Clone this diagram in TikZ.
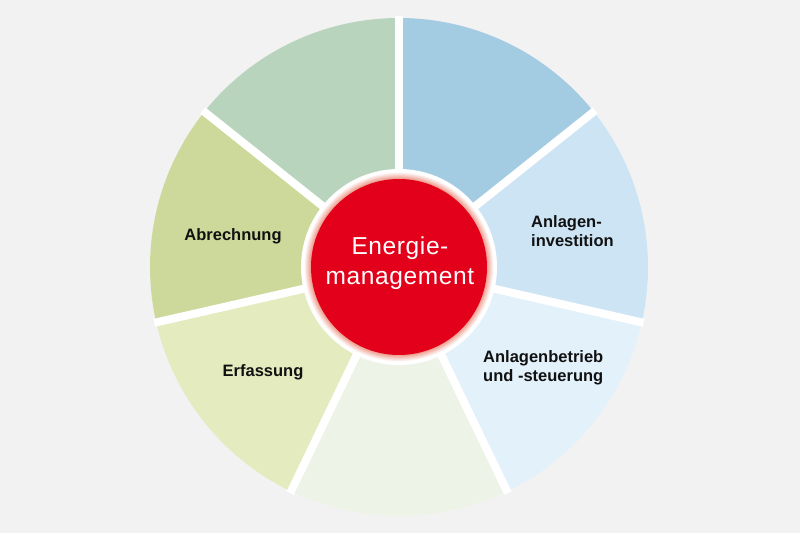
\documentclass[tikz,border=0pt]{standalone}
\usepackage{fontspec}
\setmainfont{Liberation Sans}
\newfontfamily\centerfont[LetterSpace=2.5]{Liberation Sans}
\definecolor{bg}{HTML}{F2F2F2}
\definecolor{sA}{HTML}{A3CBE2}
\definecolor{sB}{HTML}{CDE4F5}
\definecolor{sC}{HTML}{E3F1FB}
\definecolor{sD}{HTML}{EDF3E7}
\definecolor{sE}{HTML}{E3EBBF}
\definecolor{sF}{HTML}{CDD99B}
\definecolor{sG}{HTML}{B8D4BD}
\definecolor{coreRed}{HTML}{E2001A}
\definecolor{glow}{HTML}{EE9A8A}
\definecolor{txt}{HTML}{111111}
\begin{document}
\begin{tikzpicture}[x=1pt,y=1pt,
  sector/.style={fill=#1},
  gapline/.style={draw=white,line width=8pt},
  lbl/.style={font=\bfseries\fontsize{16.5}{19}\selectfont,text=txt,inner sep=0pt},
  coretext/.style={font=\centerfont\fontsize{24.5}{30}\selectfont,text=white,align=center}]
\useasboundingbox (0,0) rectangle (800,533);
\fill[bg] (0,0) rectangle (800,533);
\coordinate (C) at (399,266);
\def\R{249}
% sectors
\fill[sector=sA] (C) -- ++(38.57:\R) arc[start angle=38.57,end angle=90,radius=\R] -- cycle;
\fill[sector=sB] (C) -- ++(-12.86:\R) arc[start angle=-12.86,end angle=38.57,radius=\R] -- cycle;
\fill[sector=sC] (C) -- ++(-64.29:\R) arc[start angle=-64.29,end angle=-12.86,radius=\R] -- cycle;
\fill[sector=sD] (C) -- ++(-115.71:\R) arc[start angle=-115.71,end angle=-64.29,radius=\R] -- cycle;
\fill[sector=sE] (C) -- ++(-167.14:\R) arc[start angle=-167.14,end angle=-115.71,radius=\R] -- cycle;
\fill[sector=sF] (C) -- ++(141.43:\R) arc[start angle=141.43,end angle=192.86,radius=\R] -- cycle;
\fill[sector=sG] (C) -- ++(90:\R) arc[start angle=90,end angle=141.43,radius=\R] -- cycle;
% gaps
\foreach \a in {90,38.57,-12.86,-64.29,-115.71,-167.14,141.43}
  \draw[gapline] (C) -- ++(\a:\R+2);
% centre with soft glow
\fill[white] (C) circle[radius=98];
\foreach \i in {0,...,12}{
  \pgfmathsetmacro{\rr}{95-0.55*\i}
  \pgfmathsetmacro{\pc}{8*\i}
  \fill[glow!\pc!white] (C) circle[radius=\rr];
}
\node[circle,fill=coreRed,minimum size=176pt,inner sep=0pt] (core) at (C) {};
\node[coretext] (coretxt) at (400,270) {Energie-\\management};
% labels
\node[lbl,anchor=west,align=left] (inv) at (531,302) {Anlagen-\\investition};
\node[lbl,anchor=west,align=left] (betr) at (483,165) {Anlagenbetrieb\\und -steuerung};
\node[lbl] (abr) at (233,297) {Abrechnung};
\node[lbl] (erf) at (263,161) {Erfassung};
\end{tikzpicture}
\end{document}
